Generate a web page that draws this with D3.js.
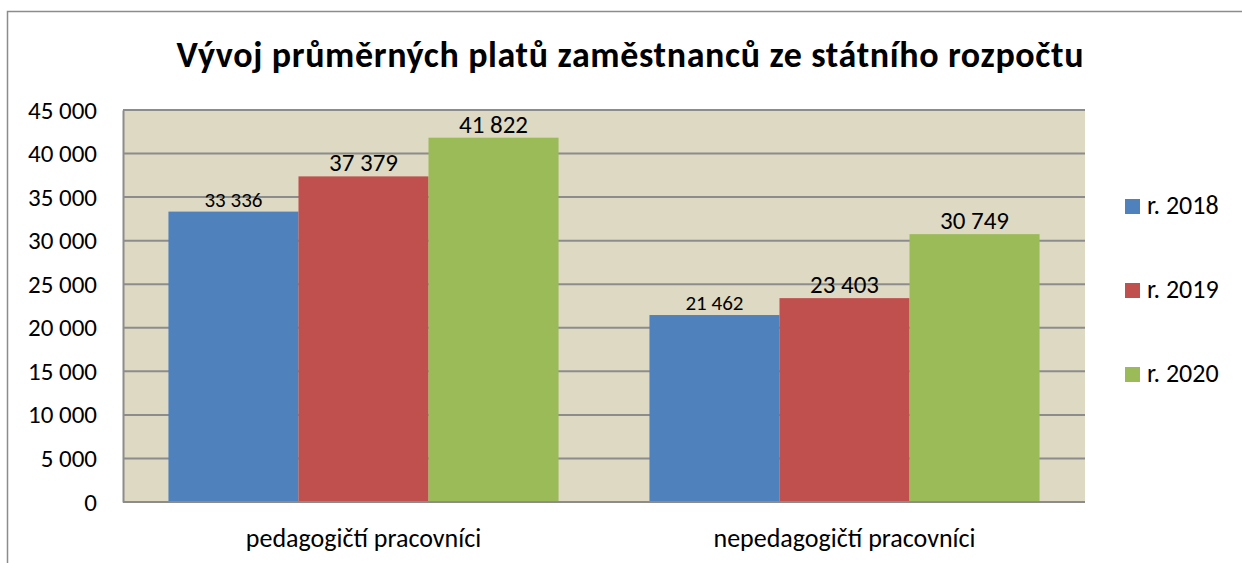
<!DOCTYPE html>
<html>
<head>
<meta charset="utf-8">
<script src="https://cdn.jsdelivr.net/npm/d3@7"></script>
<style>
  body { margin: 0; background: #fff; }
  text { font-family: Carlito, Calibri, Lato, sans-serif; fill: #000; }
</style>
</head>
<body>
<div id="chart"></div>
<script>
// data
const categories = ["pedagogičtí pracovníci", "nepedagogičtí pracovníci"]
const seriesNames = ["r. 2018", "r. 2019", "r. 2020"]
const values2018 = [33336, 21462]
const values2019 = [37379, 23403]
const values2020 = [41822, 30749]
const yTicks = [0, 5000, 10000, 15000, 20000, 25000, 30000, 35000, 40000, 45000]
const title = "Vývoj průměrných platů zaměstnanců ze státního rozpočtu"

const colors = ["#4f81bd", "#c0504d", "#9bbb59"]
const labelSizes = [21, 25, 25]

const width = 1242, height = 563
const plot = { left: 123, top: 110, right: 1085, bottom: 502 }

const svg = d3.select("#chart").append("svg")
  .attr("width", width)
  .attr("height", height)

// outer chart frame (cut off at right / bottom)
svg.append("rect")
  .attr("x", 7.5).attr("y", 11.5)
  .attr("width", width + 20).attr("height", height + 20)
  .attr("fill", "#fff")
  .attr("stroke", "#8c8c8c")
  .attr("stroke-width", 1.5)

svg.append("text")
  .attr("x", 630).attr("y", 67)
  .attr("text-anchor", "middle")
  .attr("textLength", 907)
  .attr("lengthAdjust", "spacing")
  .style("font-size", "36px")
  .style("font-weight", "bold")
  .text(title)

const y = d3.scaleLinear().domain([0, 45000]).range([plot.bottom, plot.top])

const x0 = d3.scaleBand()
  .domain(categories)
  .range([plot.left, plot.right])
  .paddingInner(0.189)
  .paddingOuter(0.0945)

const x1 = d3.scaleBand()
  .domain(seriesNames)
  .range([0, x0.bandwidth()])

// plot background
svg.append("rect")
  .attr("x", plot.left).attr("y", plot.top)
  .attr("width", plot.right - plot.left)
  .attr("height", plot.bottom - plot.top)
  .attr("fill", "#ddd9c3")

// gridlines
svg.append("g").selectAll("line")
  .data(yTicks)
  .join("line")
  .attr("x1", plot.left).attr("x2", plot.right)
  .attr("y1", d => y(d)).attr("y2", d => y(d))
  .attr("stroke", "#8c8c8c")
  .attr("stroke-width", 2)

// y axis
const fmt = d => d3.format(",")(d).replace(/,/g, " ")
const yAxis = svg.append("g")
  .attr("transform", "translate(" + plot.left + ",0)")
  .call(d3.axisLeft(y).tickValues(yTicks).tickSize(0).tickPadding(26).tickFormat(fmt))
yAxis.select(".domain").attr("stroke", "#8c8c8c").attr("stroke-width", 2)
yAxis.selectAll("text").style("font-size", "25px").style("font-family", "Carlito, Calibri, Lato, sans-serif")

// bars
const rows = categories.map((c, i) => ({
  cat: c,
  vals: [values2018[i], values2019[i], values2020[i]]
}))

const groups = svg.append("g").selectAll("g")
  .data(rows)
  .join("g")
  .attr("transform", d => "translate(" + x0(d.cat) + ",0)")

groups.selectAll("rect")
  .data(d => d.vals.map((v, j) => ({ s: seriesNames[j], v: v, j: j })))
  .join("rect")
  .attr("x", d => x1(d.s))
  .attr("y", d => y(d.v))
  .attr("width", x1.bandwidth())
  .attr("height", d => y(0) - y(d.v))
  .attr("fill", d => colors[d.j])

groups.selectAll("text")
  .data(d => d.vals.map((v, j) => ({ s: seriesNames[j], v: v, j: j })))
  .join("text")
  .attr("x", d => x1(d.s) + x1.bandwidth() / 2)
  .attr("y", d => y(d.v) - 5)
  .attr("text-anchor", "middle")
  .style("font-size", d => labelSizes[d.j] + "px")
  .text(d => fmt(d.v))

// x axis line
svg.append("line")
  .attr("x1", plot.left).attr("x2", plot.right)
  .attr("y1", plot.bottom).attr("y2", plot.bottom)
  .attr("stroke", "#8c8c8c").attr("stroke-width", 2)

// category labels
svg.append("g").selectAll("text")
  .data(categories)
  .join("text")
  .attr("x", d => x0(d) + x0.bandwidth() / 2)
  .attr("y", 547)
  .attr("text-anchor", "middle")
  .style("font-size", "26px")
  .text(d => d)

// legend
const legend = svg.append("g").selectAll("g")
  .data(seriesNames)
  .join("g")
  .attr("transform", (d, i) => "translate(1125," + (199 + i * 84) + ")")

legend.append("rect")
  .attr("width", 15).attr("height", 15)
  .attr("fill", (d, i) => colors[i])

legend.append("text")
  .attr("x", 22).attr("y", 15)
  .style("font-size", "26px")
  .text(d => d)
</script>
</body>
</html>
